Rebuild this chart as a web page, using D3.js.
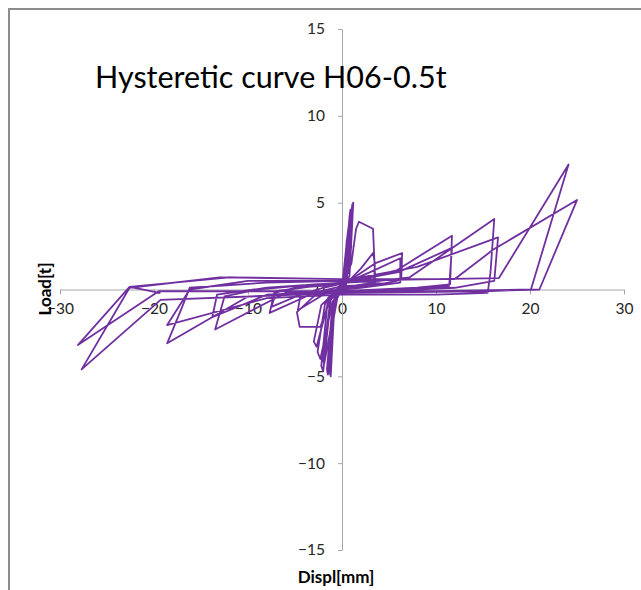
<!DOCTYPE html>
<html>
<head>
<meta charset="utf-8">
<script src="https://cdn.jsdelivr.net/npm/d3@7"></script>
<style>
  body { margin: 0; background: #fff; }
  text { font-family: Lato, "Open Sans", sans-serif; }
</style>
</head>
<body>
<div id="chart"></div>
<script>
// hysteresis record (displacement mm, load t)
const displ = [
  0, 0.5, 1.0, 0.3, -0.5, -1.0, -0.5, 0.2, 1.0, 0.4, -0.8, -1.2, -0.6,
  0.3, 1.0, 1.2, 0.8, 0.2, -0.8, -1.3, -1.2, -0.8, 0.0, 0.9, 1.1, 0.8, 0.0, -1.0, -1.6, -1.5, -1.0,
  0.0, 0.6, 0.7, 0.3, -1.5, -2.2, -2.0, -1.2, 0.2, 0.8, 0.9, 0.4, -1.8, -2.6, -2.3, -1.0,
  0.1, 0.5, 0.6, 0.2, -1.2, -2.0, -1.9, -0.6, 0.3, 1.0, 1.1, 0.5, -2.2, -3.0, -2.7, -1.4,
  0.0, 1.0, 1.5, 1.8, 3.3, 3.5, 3.5, 1.0, -1.0, -2.3, -4.5, -4.8, -3.0,
  0.0, 2.0, 3.3, 3.5, 3.4, 1.0, -2.0, -4.7, -4.4, -2.0,
  0.5, 3.5, 6.4, 6.3, 4.0, 0.0, -3.0, -7.7, -7.2, -5.0,
  0.0, 3.0, 6.2, 6.2, 2.0, -4.0, -7.5, -7.0,
  -3.0, 0.0, 5.8, 11.7, 11.5, 8.0, 0.0, -8.0, -13.8, -13.3, -8.0,
  0.0, 6.0, 11.7, 11.4, 6.0, -6.0, -13.5, -12.5, -9.0,
  -3.0, 4.0, 7.2, 16.2, 15.8, 15.5, 10.0, 0.0, -8.0, -18.6, -16.2, -10.0,
  0.0, 8.0, 16.6, 16.2, 12.0, 0.0, -10.0, -18.6, -17.0, -16.2, -8.0,
  0.0, 10.0, 16.7, 24.1, 20.1, 10.0, 0.0, -10.0, -19.5, -28.1, -22.6, -19.4, -22.6, -12.0,
  0.0, 12.0, 16.1, 25.0, 21.0, 15.0, 0.0, -19.3, -27.7, -22.6, -13.0, 0.0, 5.0
];
const load = [
  0, 1.0, 2.5, 0.5, -0.5, -2.0, -0.3, 0.3, 3.0, 0.2, -0.4, -3.0, -0.3,
  0.5, 4.5, 5.0, 0.8, 0.0, -0.6, -4.8, -5.0, -0.8, 0.0, 4.0, 4.9, 1.2, 0.1, -0.8, -4.6, -4.9, -1.0,
  0.1, 3.2, 3.6, 0.4, -0.5, -4.4, -4.7, -0.6, 0.3, 4.2, 4.6, 0.6, -0.8, -3.6, -4.0, -0.7,
  0.0, 2.8, 3.1, 0.3, -0.4, -4.0, -4.3, -0.5, 0.2, 4.4, 4.8, 0.5, -0.9, -3.0, -3.3, -0.6,
  0.2, 1.5, 3.5, 3.9, 3.5, 1.0, 0.3, 0.1, -0.2, -2.15, -2.15, -1.3, -0.4,
  0.1, 1.2, 2.1, 1.5, 0.4, 0.2, -0.3, -1.2, -0.3, 0.1,
  0.4, 1.5, 2.1, 0.55, 0.3, 0.2, -0.2, -1.35, -0.2, 0.1,
  0.3, 1.0, 1.8, 0.4, 0.1, -0.2, -1.0, -0.1,
  0.2, 0.35, 1.1, 3.1, 0.3, 0.1, -0.1, -0.3, -1.6, -0.3, 0.1,
  0.4, 1.0, 2.4, 0.2, 0.0, -0.2, -2.3, -0.4, 0.0,
  0.3, 0.5, 0.7, 4.06, 1.0, -0.2, -0.3, -0.3, -0.5, -2.05, 0.0, 0.5,
  0.5, 1.3, 3.0, 0.5, 0.1, -0.2, -0.4, -3.1, -1.0, 0.1, 0.4,
  0.5, 0.6, 0.66, 7.2, 0.0, -0.1, -0.1, -0.1, -0.1, -3.2, 0.15, -0.2, 0.15, 0.7,
  0.6, 0.6, 2.3, 5.15, 0.0, -0.1, -0.2, -0.6, -4.6, 0.1, 0.7, 0.6, 0.3
];
const xTicks = [-30, -20, -10, 0, 10, 20, 30];
const yTicks = [-15, -10, -5, 0, 5, 10, 15];

const W = 641, H = 590;
const svg = d3.select("#chart")
              .append("svg")
              .attr("width", W)
              .attr("height", H);

svg.append("rect").attr("width", W).attr("height", H).attr("fill", "#fff");

// outer frame (only top and left edges visible)
svg.append("path")
   .attr("d", "M9,590V9H641")
   .attr("fill", "none")
   .attr("stroke", "#8c8c8c")
   .attr("stroke-width", 2);

const x = d3.scaleLinear().domain([-30, 30]).range([60, 624]);
const y = d3.scaleLinear().domain([-15, 15]).range([550, 29]);

// x axis through y=0
const gx = svg.append("g")
   .attr("transform", `translate(0,${y(0)})`)
   .call(d3.axisBottom(x).tickValues(xTicks).tickSize(5).tickSizeOuter(0).tickPadding(8));

// y axis through x=0
const gy = svg.append("g")
   .attr("transform", `translate(${x(0)},0)`)
   .call(d3.axisLeft(y).tickValues(yTicks).tickSize(4).tickSizeOuter(0).tickPadding(13));

[gx, gy].forEach(g => {
  g.select(".domain").attr("stroke", "#a6a6a6");
  g.selectAll(".tick line").attr("stroke", "#a6a6a6");
  g.selectAll(".tick text")
   .attr("font-family", "Lato, 'Open Sans', sans-serif")
   .attr("font-size", 15.5)
   .attr("fill", "#262626");
});

// hysteresis curve
svg.append("path")
   .datum(d3.zip(displ, load))
   .attr("fill", "none")
   .attr("stroke", "#7030a0")
   .attr("stroke-width", 1.8)
   .attr("stroke-linejoin", "round")
   .attr("d", d3.line()
                .x(d => x(d[0]))
                .y(d => y(d[1]))
   );

// title
svg.append("text")
   .attr("x", 95)
   .attr("y", 88)
   .attr("font-size", 30.5)
   .attr("fill", "#000")
   .text("Hysteretic curve H06-0.5t");

// axis titles
svg.append("text")
   .attr("x", 336)
   .attr("y", 583)
   .attr("text-anchor", "middle")
   .attr("font-size", 17)
   .attr("font-weight", "bold")
   .text("Displ[mm]");

svg.append("text")
   .attr("transform", "translate(51,289) rotate(-90)")
   .attr("text-anchor", "middle")
   .attr("font-size", 17)
   .attr("font-weight", "bold")
   .text("Load[t]");
</script>
</body>
</html>
